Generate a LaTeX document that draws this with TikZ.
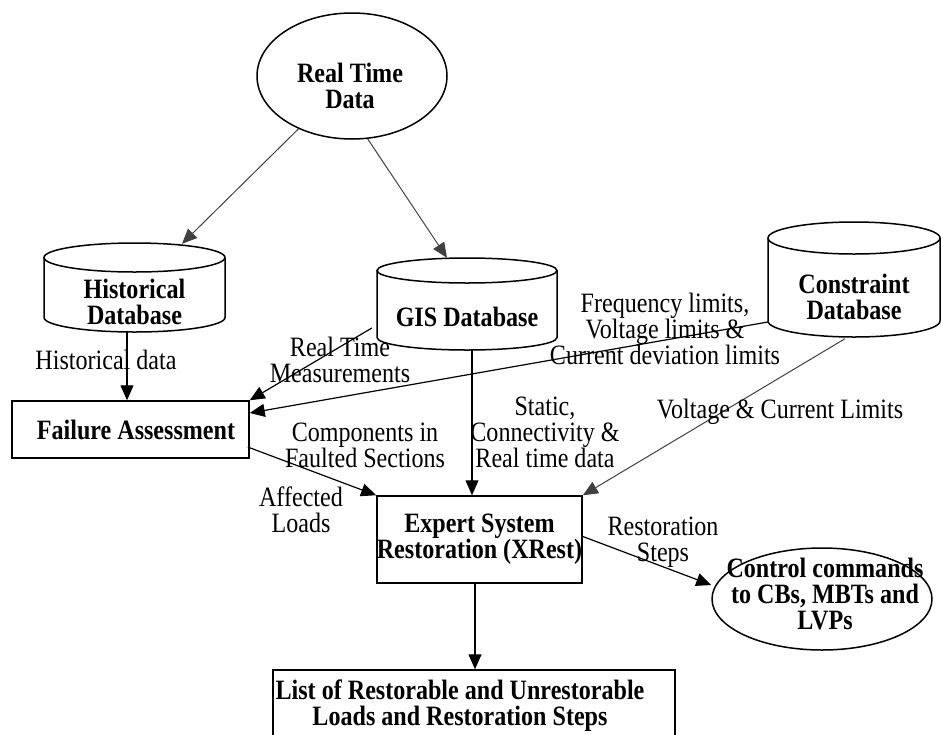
\documentclass[tikz,border=0pt]{standalone}
\usepackage{fontspec}
\setmainfont{Liberation Serif}[FakeStretch=0.86]
\usetikzlibrary{arrows.meta,shapes.geometric}

% outline of a database drum: centre x, top y, bottom y, x radius, lid y radius
\newcommand\drumoutline[5]{%
  \draw[shape line] (#1,{#2+#5}) ellipse[x radius=#4, y radius=#5];
  \draw[shape line] ({#1-#4},{#2+#5}) -- ({#1-#4},{#3-#5})
    .. controls ({#1-#4},{#3-0.4477*#5}) and ({#1-0.5523*#4},#3) .. (#1,#3)
    .. controls ({#1+0.5523*#4},#3) and ({#1+#4},{#3-0.4477*#5}) .. ({#1+#4},{#3-#5})
    -- ({#1+#4},{#2+#5});
}

\begin{document}
\begin{tikzpicture}[x=1pt,y=-1pt,
  every node/.style={font=\fontsize{28}{26}\selectfont, align=center, inner sep=0pt},
  shape line/.style={line width=1.5pt},
  boxnode/.style={draw, rectangle, line width=1.5pt},
  oval/.style={draw, ellipse, line width=1.5pt},
  bodytext/.style={font=\fontsize{28}{26}\selectfont\bfseries},
  lbl/.style={font=\fontsize{28}{26}\selectfont},
  flow/.style={line width=1.2pt, -{Triangle[length=15pt,width=13pt]}},
  feed/.style={line width=1pt, color=black!75, -{Triangle[length=15pt,width=13pt]}}
]
\useasboundingbox (0,0) rectangle (941,734);
\clip (0,0) rectangle (941,734);

% sources
\node[oval, minimum width=190pt, minimum height=126pt] (rtd) at (352,76) {};
\node[bodytext] (rtdtext) at (350,86) {Real Time\\Data};

\node[bodytext, minimum width=181pt, minimum height=60pt] (hist) at (134.5,302) {Historical\\Database};
\drumoutline{134.5}{243}{332}{90.5}{14.5}

\node[bodytext, minimum width=180pt, minimum height=67pt] (gis) at (467,316.5) {GIS Database};
\drumoutline{467}{258}{350}{90}{12.5}

\node[bodytext, minimum width=172pt, minimum height=83pt] (cons) at (854,297) {Constraint\\Database};
\drumoutline{854}{222}{337}{86}{16}

% processing
\node[boxnode, minimum width=237pt, minimum height=57pt] (fail) at (130.5,429.5) {};
\node[bodytext] (failtext) at (136,429.5) {Failure Assessment};
\node[boxnode, bodytext, minimum width=203pt, minimum height=87pt] (expert) at (479.5,539.5) {Expert System\\Restoration (XRest)};

% outputs
\node[boxnode, minimum width=402pt, minimum height=72pt] (list) at (474,706) {};
\node[bodytext] (listtext) at (460,706) {List of Restorable and Unrestorable\\Loads and Restoration Steps};
\node[oval, minimum width=220pt, minimum height=102pt] (ctrl) at (822,599) {};
\node[bodytext] (ctrltext) at (825,594) {Control commands\\to CBs, MBTs and\\LVPs};

% data feeds
\draw[feed] (rtd) -- ([xshift=47.5pt,yshift=28pt]hist.north);
\draw[feed] (rtd.-76) -- ([xshift=-20pt,yshift=25pt]gis.north);

\draw[flow] ([xshift=-7.5pt]hist.south) -- ([xshift=-7.5pt]hist.south |- fail.north);
\node[lbl] (histlbl) at (106,360) {Historical data};

\draw[flow] ([xshift=-5pt,yshift=-11.5pt]gis.west) -- (fail.north east);
\node[lbl] (rtmlbl) at (340,360) {Real Time\\Measurements};

\draw[flow] ([yshift=-25pt]cons.west) -- ([yshift=16.5pt]fail.east);
\node[lbl] (limlbl) at (665,329) {Frequency limits,\\Voltage limits \&\\Current deviation limits};

\draw[flow] ([xshift=5pt]gis.south) -- ([xshift=5pt]gis.south |- expert.north);
\node[lbl] (gislbl) at (545,432) {Static,\\Connectivity \&\\Real time data};

\draw[flow] ([xshift=-2pt,yshift=-17.5pt]fail.east) -- (expert.north west);
\node[lbl] (complbl) at (365,445) {Components in\\Faulted Sections};
\node[lbl] (afflbl) at (301,510) {Affected\\Loads};

\draw[feed] ([xshift=-9pt]cons.south) -- (expert.north east);
\node[lbl] (vclbl) at (780,412) {Voltage \& Current Limits};

\draw[flow] ([yshift=3pt]expert.east) -- ([yshift=14pt]ctrl.west);
\node[lbl] (steplbl) at (663,542) {Restoration\\Steps};

\draw[flow] ([xshift=-4.5pt]expert.south) -- ([xshift=-4.5pt]expert.south |- list.north);
\end{tikzpicture}
\end{document}
